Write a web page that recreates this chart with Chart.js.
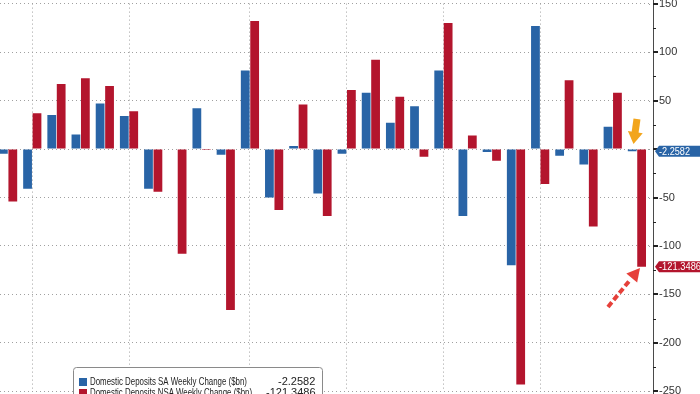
<!DOCTYPE html>
<html>
<head>
<meta charset="utf-8">
<script src="https://cdn.jsdelivr.net/npm/chart.js@4/dist/chart.umd.min.js"></script>
<style>
  html, body { margin: 0; padding: 0; background: #fff; overflow: hidden; }
  #wrap { position: absolute; left: -4px; top: -13px; width: 704px; height: 421px; }
</style>
</head>
<body>
<div id="wrap"><canvas id="chart"></canvas></div>
<script>
// weekly observations
var weeks = ['Oct 19','Oct 26','Nov 2','Nov 9','Nov 16','Nov 23','Nov 30','Dec 7','Dec 14',
  'Dec 21','Dec 28','Jan 4','Jan 11','Jan 18','Jan 25','Feb 1','Feb 8','Feb 15','Feb 22',
  'Mar 1','Mar 8','Mar 15','Mar 22','Mar 29','Apr 5','Apr 12','Apr 19'];
var saChange = [-5, -41, 35, 15, 47, 34, -41, -0.5, 42, -6, 81, -50, 3, -46, -5, 58, 27, 44, 81,
  -69, -3, -120, 127, -7, -16, 23, -2.2582];
var nsaChange = [-54, 37, 67, 73, 65, 39, -44, -108, -1, -166, 132, -63, 46, -69, 61, 92, 54, -8, 130,
  14, -12, -243, -36, 71, -80, 58, -121.3486];
var gridWeeks = [1, 5, 10, 14, 18, 22]; // vertical gridlines
var yTicks = [-250, -200, -150, -100, -50, 0, 50, 100, 150];

var BLUE = '#2964a6', RED = '#b3152d';
var OFFX = 4, OFFY = 13; // canvas is shifted left/up of the page

function px(x) { return x + OFFX; }
function py(y) { return y + OFFY; }

function arrowHead(ctx, x1, y1, x2, y2, len, w) {
    var a = Math.atan2(y2 - y1, x2 - x1);
    ctx.beginPath();
    ctx.moveTo(x2, y2);
    ctx.lineTo(x2 - len * Math.cos(a) + w / 2 * Math.sin(a), y2 - len * Math.sin(a) - w / 2 * Math.cos(a));
    ctx.lineTo(x2 - len * Math.cos(a) - w / 2 * Math.sin(a), y2 - len * Math.sin(a) + w / 2 * Math.cos(a));
    ctx.closePath();
    ctx.fill();
}

function valueTag(ctx, y, text, color, maxW) {
    var x0 = px(655), x1 = px(704), h = 11;
    ctx.fillStyle = color;
    ctx.beginPath();
    ctx.moveTo(x0, y);
    ctx.lineTo(x0 + 4, y - h / 2);
    ctx.lineTo(x1, y - h / 2);
    ctx.lineTo(x1, y + h / 2);
    ctx.lineTo(x0 + 4, y + h / 2);
    ctx.closePath();
    ctx.fill();
    ctx.fillStyle = '#fff';
    ctx.font = '10.5px "Liberation Sans Narrow", "Liberation Sans", Arial, sans-serif';
    ctx.textAlign = 'left';
    ctx.textBaseline = 'middle';
    ctx.fillText(text, x0 + 4, y + 0.5, maxW);
}

var extras = {
    id: 'extras',
    afterDraw: function(chart) {
        var ctx = chart.ctx, area = chart.chartArea, y = chart.scales.y;
        var ax = px(653);
        ctx.save();

        // extend dotted grid to the axis line
        ctx.strokeStyle = '#a0a0a0';
        ctx.lineWidth = 1;
        ctx.setLineDash([1, 3]);
        yTicks.forEach(function(v) {
            var yy = Math.round(y.getPixelForValue(v)) + 0.5;
            ctx.beginPath(); ctx.moveTo(area.right, yy); ctx.lineTo(ax, yy); ctx.stroke();
        });
        ctx.setLineDash([]);

        // axis line and ticks
        ctx.strokeStyle = '#4a4a4a';
        ctx.beginPath(); ctx.moveTo(ax + 0.5, 0); ctx.lineTo(ax + 0.5, chart.height); ctx.stroke();
        for (var v = -250; v <= 150; v += 25) {
            var yy = Math.round(y.getPixelForValue(v));
            ctx.fillStyle = '#222';
            if (v % 50 === 0) ctx.fillRect(ax, yy - 1, 5, 2);
            else ctx.fillRect(ax, yy, 3, 1);
        }

        // last value tags
        valueTag(ctx, y.getPixelForValue(saChange[saChange.length - 1]), '-2.2582', BLUE, 31);
        valueTag(ctx, y.getPixelForValue(nsaChange[nsaChange.length - 1]), '-121.3486', RED, 42);

        // orange arrow
        ctx.fillStyle = '#f2a51c';
        ctx.strokeStyle = '#f2a51c';
        ctx.lineWidth = 7;
        ctx.beginPath(); ctx.moveTo(px(637), py(119)); ctx.lineTo(px(635), py(133)); ctx.stroke();
        arrowHead(ctx, px(637), py(121), px(633.5), py(144), 12, 15);

        // red dashed arrow
        ctx.fillStyle = '#e6403a';
        ctx.strokeStyle = '#e6403a';
        ctx.lineWidth = 4;
        ctx.setLineDash([6, 3]);
        ctx.beginPath(); ctx.moveTo(px(608), py(307)); ctx.lineTo(px(630), py(280)); ctx.stroke();
        ctx.setLineDash([]);
        arrowHead(ctx, px(608), py(307), px(640), py(268), 13, 14);

        // legend box
        ctx.fillStyle = '#fff';
        ctx.strokeStyle = '#8a8a8a';
        ctx.lineWidth = 1;
        ctx.beginPath();
        ctx.roundRect(px(73) + 0.5, py(367) + 0.5, 249, 40, 3);
        ctx.fill(); ctx.stroke();
        ctx.font = '11px "Liberation Sans Narrow", "Liberation Sans", Arial, sans-serif';
        ctx.textAlign = 'left';
        ctx.textBaseline = 'middle';
        var rows = [
            { y: 382, c: BLUE, t: chart.data.datasets[0].label, v: '-2.2582', vx: 278 },
            { y: 393, c: RED, t: chart.data.datasets[1].label, v: '-121.3486', vx: 266 }
        ];
        rows.forEach(function(r) {
            ctx.fillStyle = r.c;
            ctx.fillRect(px(79), py(r.y) - 4, 8, 8);
            ctx.fillStyle = '#222';
            ctx.fillText(r.t, px(90), py(r.y), r.c === BLUE ? 157 : 162);
            ctx.fillText(r.v, px(r.vx), py(r.y));
        });
        ctx.restore();
    }
};

var ctx = document.getElementById('chart').getContext('2d');
var chart = new Chart(ctx, {
    type: 'bar',
    data: {
        labels: weeks,
        datasets: [
            { label: 'Domestic Deposits SA Weekly Change ($bn)', data: saChange, backgroundColor: BLUE },
            { label: 'Domestic Deposits NSA Weekly Change ($bn)', data: nsaChange, backgroundColor: RED }
        ]
    },
    options: {
        responsive: true,
        maintainAspectRatio: false,
        animation: false,
        layout: { padding: { top: 3, bottom: 4, left: 0, right: 0 } },
        plugins: { legend: { display: false }, tooltip: { enabled: false } },
        datasets: { bar: { categoryPercentage: 0.78, barPercentage: 0.93 } },
        scales: {
            x: {
                ticks: { display: false },
                grid: {
                    offset: false,
                    drawTicks: false,
                    color: function(c) { return gridWeeks.indexOf(c.index) >= 0 ? '#a0a0a0' : 'rgba(0,0,0,0)'; }
                },
                border: { display: false, dash: [1, 3] }
            },
            y: {
                position: 'right',
                min: -250,
                max: 150,
                afterFit: function(s) { s.width = 51; },
                ticks: {
                    stepSize: 50,
                    padding: 10,
                    color: '#333',
                    font: { family: '"Liberation Sans", Arial, sans-serif', size: 11 },
                    callback: function(v) { return v === 0 ? '' : v; }
                },
                grid: { drawTicks: false, color: '#a0a0a0' },
                border: { display: false, dash: [1, 3] }
            }
        }
    },
    plugins: [extras]
});
</script>
</body>
</html>
